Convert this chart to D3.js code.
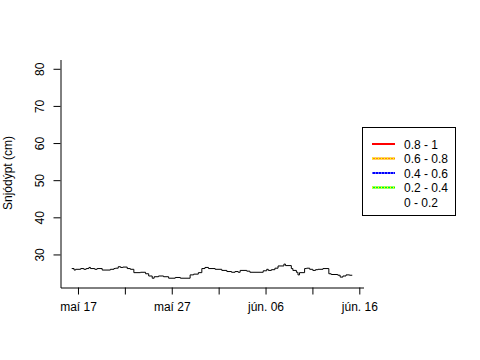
<!DOCTYPE html>
<html><head><meta charset="utf-8">
<script src="https://cdn.jsdelivr.net/npm/d3@7"></script>
<style>
body{margin:0;background:#fff}
svg text{font-family:"Liberation Sans",Arial,sans-serif;font-size:12px;fill:#000}
</style></head><body>
<svg id="c" width="480" height="360"></svg>
<script>
// Snow depth readings: hours since 2015-05-16 00:00 and depth in cm (step series)
const startDate = "2015-05-16T00:00:00";
const hoursSinceStart = [8,14,18,31,39,45,52,56,67,73,86,107,116,120,127,133,139,150,158,167,
  184,197,205,214,219,230,243,256,273,286,311,320,332,341,349,358,375,392,405,417,
  426,434,439,456,464,498,507,511,519,528,536,551,555,570,574,583,587,591,604,609,
  617,625,632,638,651,666,672,689,695,702,710,719,726];
const snowDepth = [26.2,25.8,26.0,26.2,26.0,26.2,26.5,26.2,26.0,26.2,25.8,26.0,26.2,26.3,26.7,26.5,26.6,26.2,26.0,25.1,
  25.2,24.8,24.2,23.6,24.0,24.2,24.0,23.6,23.8,23.6,24.5,24.7,25.1,26.2,26.5,26.2,26.0,25.7,25.4,25.2,
  25.4,25.2,25.7,25.5,25.2,25.6,26.0,25.7,25.9,26.3,26.9,27.4,27.0,26.2,25.7,25.2,24.5,25.1,26.2,26.3,
  26.0,25.7,25.9,26.0,26.2,24.8,24.6,24.4,23.9,24.2,24.5,24.4,24.4];
const xTickDates = ["2015-05-17","2015-05-22","2015-05-27","2015-06-01","2015-06-06","2015-06-11","2015-06-16"];
const xTickLabels = ["maí 17","","maí 27","","jún. 06","","jún. 16"];
const yTicks = [30,40,50,60,70,80];
const yDomain = [21.1,82.5];
const yTitle = "Snjódýpt (cm)";
const legendLabels = ["0.8 - 1","0.6 - 0.8","0.4 - 0.6","0.2 - 0.4","0 - 0.2"];
const legendColors = ["#ff0000","#ff8c00","#0000ff","#00ff00","#ffffff"];
const legendAccent = [null,"#ffff00","#6666ff","#ffff00",null];

const svg = d3.select("#c");
const base = new Date(startDate);
const data = hoursSinceStart.map((h,i)=>({t:d3.timeHour.offset(base,h), v:snowDepth[i]}));

const ext = d3.extent(data,d=>d.t);
const pad = (ext[1]-ext[0])*0.04;
const x = d3.scaleTime().domain([new Date(+ext[0]-pad), new Date(+ext[1]+pad)]).range([60.5,363.5]);
const y = d3.scaleLinear().domain(yDomain).range([287.5,59.5]);

// x axis
const xa = svg.append("g").attr("transform","translate(0,287.5)")
  .call(d3.axisBottom(x).tickValues(xTickDates.map(s=>new Date(s+"T00:00:00")))
    .tickFormat((d,i)=>xTickLabels[i]).tickSize(7).tickPadding(8).tickSizeOuter(0));
xa.selectAll("text").style("font-size","12px").style("font-family","Liberation Sans, Arial, sans-serif");
xa.selectAll("line,path").attr("stroke","#000");

// y axis
const ya = svg.append("g").attr("transform","translate(60.5,0)")
  .call(d3.axisLeft(y).tickValues(yTicks).tickSize(7).tickSizeOuter(0).tickFormat(d3.format("d")));
ya.selectAll("line,path").attr("stroke","#000");
ya.selectAll("text").attr("x",0).attr("y",-16.5).attr("dy",0)
  .attr("transform","rotate(-90)").attr("text-anchor","middle")
  .style("font-size","12px").style("font-family","Liberation Sans, Arial, sans-serif");

// y title
svg.append("text").attr("transform",`translate(12,173) rotate(-90)`)
  .attr("text-anchor","middle").text(yTitle);

// series
svg.append("path").datum(data)
  .attr("fill","none").attr("stroke","#000").attr("stroke-width",1)
  .attr("d", d3.line().x(d=>x(d.t)).y(d=>y(d.v)).curve(d3.curveStepAfter));

// legend
const lg = svg.append("g");
lg.append("rect").attr("x",362.5).attr("y",127.5).attr("width",93).attr("height",88)
  .attr("fill","#fff").attr("stroke","#000");
const rowY = d3.scaleLinear().domain([0,4]).range([144,202]);
legendLabels.forEach((lab,i)=>{
  const yy = rowY(i);
  lg.append("line").attr("x1",372).attr("x2",395).attr("y1",yy).attr("y2",yy)
    .attr("stroke",legendColors[i]).attr("stroke-width",2);
  if(legendAccent[i]) lg.append("line").attr("x1",372).attr("x2",395).attr("y1",yy).attr("y2",yy)
    .attr("stroke",legendAccent[i]).attr("stroke-width",2).attr("stroke-dasharray","1,2");
  lg.append("text").attr("x",404).attr("y",yy+4.5).text(lab);
});
</script></body></html>
